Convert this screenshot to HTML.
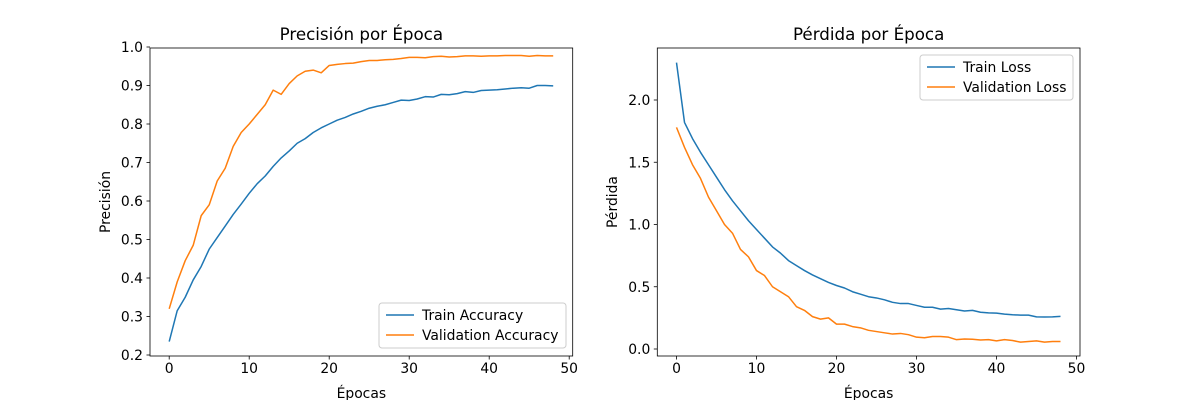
<!DOCTYPE html>
<html><head><meta charset="utf-8"><style>
body{margin:0;background:#fff}
svg{display:block;font-family:"DejaVu Sans","Liberation Sans",sans-serif}
</style></head><body>
<svg id="fig" width="1200" height="400" viewBox="0 0 1200 400"></svg>
<script>
const epochs = Array.from({length:49},(_,i)=>i);
const trainAcc = [0.235,0.315,0.35,0.395,0.43,0.475,0.505,0.535,0.565,0.592,0.62,0.645,0.665,0.69,0.712,0.73,0.75,0.762,0.778,0.79,0.80,0.81,0.817,0.826,0.833,0.841,0.846,0.85,0.856,0.862,0.861,0.865,0.871,0.87,0.877,0.876,0.879,0.884,0.882,0.887,0.888,0.889,0.891,0.893,0.894,0.893,0.9,0.9,0.899];
const valAcc = [0.32,0.39,0.445,0.485,0.562,0.59,0.652,0.685,0.742,0.778,0.8,0.825,0.85,0.888,0.877,0.905,0.925,0.937,0.94,0.933,0.952,0.955,0.957,0.958,0.962,0.965,0.965,0.967,0.968,0.97,0.973,0.973,0.972,0.975,0.976,0.974,0.975,0.977,0.977,0.976,0.977,0.977,0.978,0.978,0.978,0.976,0.978,0.977,0.977];
const trainLoss = [2.3,1.82,1.69,1.58,1.48,1.38,1.28,1.19,1.11,1.03,0.96,0.89,0.82,0.77,0.71,0.67,0.63,0.595,0.565,0.535,0.51,0.49,0.46,0.44,0.42,0.41,0.395,0.375,0.365,0.365,0.35,0.335,0.335,0.32,0.325,0.315,0.305,0.31,0.295,0.29,0.288,0.28,0.275,0.272,0.272,0.258,0.257,0.258,0.262];
const valLoss = [1.78,1.62,1.48,1.37,1.22,1.11,1.0,0.93,0.8,0.74,0.63,0.59,0.5,0.46,0.42,0.34,0.31,0.26,0.24,0.25,0.2,0.2,0.18,0.17,0.15,0.14,0.13,0.12,0.125,0.115,0.095,0.09,0.1,0.1,0.095,0.075,0.08,0.078,0.072,0.075,0.065,0.075,0.068,0.055,0.06,0.065,0.055,0.06,0.06];
const xTicks = [0,10,20,30,40,50];
const accTicks = [0.2,0.3,0.4,0.5,0.6,0.7,0.8,0.9,1.0];
const lossTicks = [0.0,0.5,1.0,1.5,2.0];

const NS="http://www.w3.org/2000/svg";
const svg=document.getElementById('fig');
function mk(tag,attrs,parent){const e=document.createElementNS(NS,tag);for(const k in attrs)e.setAttribute(k,attrs[k]);(parent||svg).appendChild(e);return e;}

function panel(o){
  const g=mk('g',{});
  
  
  const xs=v=>o.x0+(v-o.xmin)*(o.x1-o.x0)/(o.xmax-o.xmin);
  const ys=v=>o.y0+(v-o.ymin)*(o.y1-o.y0)/(o.ymax-o.ymin);
  // series
  o.series.forEach(s=>{
    const d=epochs.map((e,i)=>(i?'L':'M')+xs(e).toFixed(2)+','+ys(s.data[i]).toFixed(2)).join(' ');
    const p=mk('path',{d:d,fill:'none',stroke:s.color,'stroke-width':1.5,'stroke-linejoin':'round'},g);
    
    
  });
  // frame
  const fr=mk('rect',{x:o.L,y:o.T,width:o.R-o.L,height:o.B-o.T,fill:'none',stroke:'#000','stroke-width':0.8},g);
  
  
  xTicks.forEach(t=>{
    const x=xs(t);
    mk('line',{x1:x,x2:x,y1:o.B,y2:o.B+3.5,stroke:'#000','stroke-width':0.8},g);
    const tx=mk('text',{x:x,y:o.B+17,'text-anchor':'middle','font-size':13.9,fill:'#000'},g);
    tx.textContent=String(t);
    
    
  });
  o.yTicks.forEach(t=>{
    const y=ys(t);
    mk('line',{x1:o.L-3.5,x2:o.L,y1:y,y2:y,stroke:'#000','stroke-width':0.8},g);
    const tx=mk('text',{x:o.L-7,y:y+5,'text-anchor':'end','font-size':13.9,fill:'#000'},g);
    tx.textContent=t.toFixed(1);
    
    
  });
  const ti=mk('text',{x:(o.L+o.R)/2,y:40,'text-anchor':'middle','font-size':16.7,fill:'#000'},g);
  ti.textContent=o.title;
  
  
  const xl=mk('text',{x:(o.L+o.R)/2,y:398,'text-anchor':'middle','font-size':13.9,fill:'#000'},g);
  xl.textContent='Épocas';
  
  
  const yl=mk('text',{x:0,y:0,'text-anchor':'middle','font-size':13.9,fill:'#000',transform:`translate(${o.ylx},${(o.T+o.B)/2}) rotate(-90)`},g);
  yl.textContent=o.ylabel;
  
  
  // legend
  const lg=mk('g',{},g);
  
  
  mk('rect',{x:o.lx,y:o.ly,width:o.lw,height:45,rx:3,fill:'#fff','fill-opacity':0.8,stroke:'#ccc','stroke-width':1},lg);
  o.series.forEach((s,i)=>{
    const y=o.ly+12+i*20;
    mk('line',{x1:o.lx+7,x2:o.lx+35,y1:y,y2:y,stroke:s.color,'stroke-width':1.5},lg);
    const t=mk('text',{x:o.lx+43,y:y+5,'font-size':13.9,fill:'#000'},lg);
    t.textContent=s.label;
    
    
  });
}
panel({name:'accuracy-chart',L:150,R:572.7,T:48,B:356,x0:169.2,x1:569.2,xmin:0,xmax:50,y0:355,y1:47,ymin:0.2,ymax:1.0,
  yTicks:accTicks,title:'Precisión por Época',ylabel:'Precisión',ylx:110,lx:379,ly:303,lw:187,
  series:[{id:'train-accuracy-line',label:'Train Accuracy',color:'#1f77b4',data:trainAcc},
          {id:'validation-accuracy-line',label:'Validation Accuracy',color:'#ff7f0e',data:valAcc}]});
panel({name:'loss-chart',L:657.3,R:1080,T:48,B:356,x0:676.5,x1:1076.5,xmin:0,xmax:50,y0:349,y1:100,ymin:0,ymax:2.0,
  yTicks:lossTicks,title:'Pérdida por Época',ylabel:'Pérdida',ylx:617,lx:920,ly:55,lw:153,
  series:[{id:'train-loss-line',label:'Train Loss',color:'#1f77b4',data:trainLoss},
          {id:'validation-loss-line',label:'Validation Loss',color:'#ff7f0e',data:valLoss}]});
</script>
</body></html>
